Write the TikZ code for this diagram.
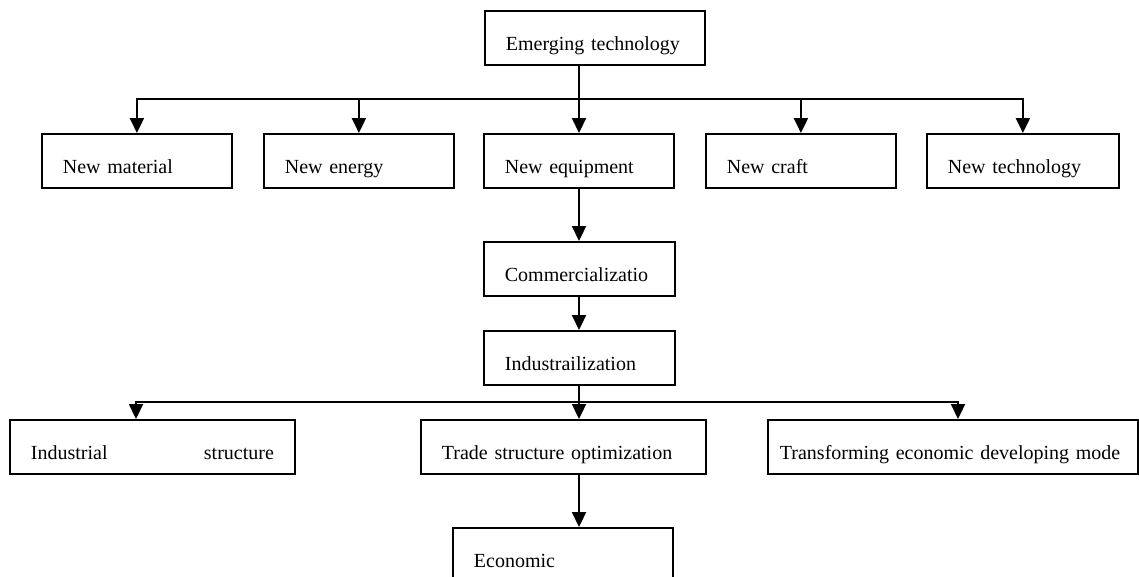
\documentclass[tikz,border=0pt]{standalone}
\usepackage{fontspec}
\setmainfont{Liberation Serif}
\usetikzlibrary{arrows.meta}
\begin{document}
\begin{tikzpicture}[x=1pt,y=-1pt,
  box/.style={draw, line width=1.8pt, inner xsep=21pt, inner ysep=0pt,
    text height=39.5pt, text depth=14.5pt, anchor=north west, align=left,
    font=\fontsize{20}{24}\selectfont},
  arr/.style={line width=2.2pt, -{Triangle[length=15pt,width=14pt]}}]
\useasboundingbox (0,0) rectangle (1139,576);
\clip (0,0) rectangle (1139,576);
\coordinate (col) at (579,0);
\coordinate (bus1) at (0,99);
\coordinate (bus2) at (0,402);
\coordinate (xa) at (136,0);
\coordinate (xb) at (958,0);

\node[box, text width=178pt] (emt) at (484,10) {Emerging technology};

\node[box, text width=148pt] (mat) at (41,133) {New material};
\node[box, text width=148pt] (ene) at (263,133) {New energy};
\node[box, text width=148pt] (equ) at (483,133) {New equipment};
\node[box, text width=148pt] (cra) at (705,133) {New craft};
\node[box, text width=150pt] (tec) at (926,133) {New technology};

\node[box, text width=149pt] (com) at (483,241) {Commercializatio};
\node[box, text width=149pt] (ind) at (483,330) {Industrailization};

\node[box, text width=243pt] (isr) at (9,419) {\makebox[243pt]{Industrial\hfill structure}};
\node[box, text width=243pt] (tra) at (420,419) {Trade structure optimization};
\node[box, inner xsep=12pt, text width=346pt] (trf) at (767,419) {Transforming economic developing mode};

\node[box, text width=178pt, text depth=40pt] (eco) at (452,527) {Economic};

% top tree
\draw[arr] (col |- emt.south) -- (col |- equ.north);
\draw[arr] (col |- bus1) -| (mat.north);
\draw[arr] (col |- bus1) -| (tec.north);
\draw[arr] (ene.north |- bus1) -- (ene.north);
\draw[arr] (cra.north |- bus1) -- (cra.north);

% chain
\draw[arr] (col |- equ.south) -- (col |- com.north);
\draw[arr] (col |- com.south) -- (col |- ind.north);

% bottom tree
\draw[arr] (col |- ind.south) -- (col |- tra.north);
\draw[arr] (col |- bus2) -| (xa |- isr.north);
\draw[arr] (col |- bus2) -| (xb |- trf.north);

\draw[arr] (col |- tra.south) -- (col |- eco.north);
\end{tikzpicture}
\end{document}
